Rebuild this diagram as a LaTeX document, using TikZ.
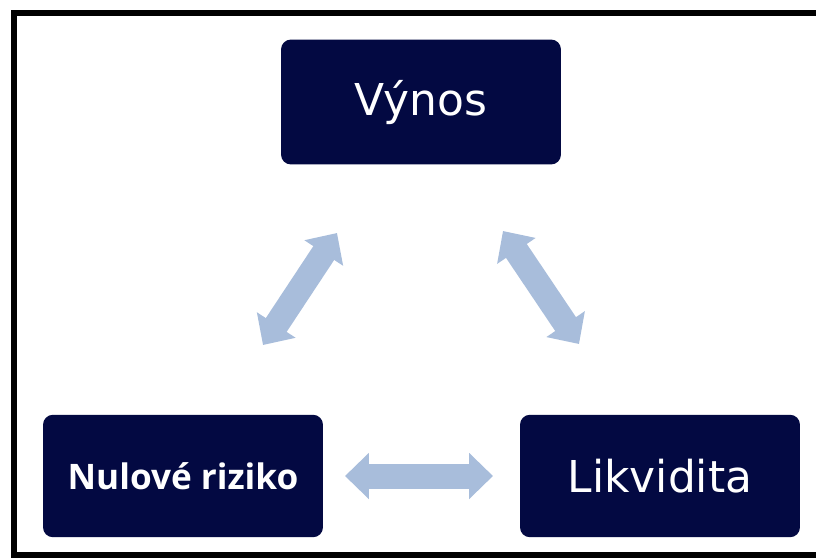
\documentclass[tikz,border=0pt]{standalone}
\usepackage{fontspec}
\setmainfont{DejaVu Sans}
\newfontfamily\osans{Open Sans}
\usetikzlibrary{arrows.meta}

\definecolor{navy}{RGB}{3,9,66}
\definecolor{arrowblue}{RGB}{168,189,219}

\tikzset{
  box/.style={fill=navy, rounded corners=0.2cm, text=white,
    minimum width=5.6cm, minimum height=2.45cm, inner sep=0pt},
  dblarrow/.style={draw=arrowblue, line width=0.5cm,
    {Triangle[width=0.9cm,length=0.48cm]}-{Triangle[width=0.9cm,length=0.48cm]}}
}

\begin{document}
\begin{tikzpicture}[x=0.02cm, y=-0.02cm]

\useasboundingbox (0,0) rectangle (816,559);

% Frame
\draw[line width=0.12cm] (816,13)--(14,13)--(14,555)--(816,555);

% Top box
\node[box, minimum height=2.5cm] (vyn) at (421,102)
{\fontsize{25}{30}\selectfont Výnos};

% Bottom left box
\node[box] (nul) at (183,476)
{\osans\bfseries\fontsize{20}{24}\selectfont Nulové riziko};

% Bottom right box
\node[box] (lik) at (660,476)
{\fontsize{25}{30}\selectfont Likvidita};

%--------------------------------------------------
% Arrows
%--------------------------------------------------
\coordinate (nulvyn1) at (263,345);
\coordinate (nulvyn2) at (337,233);
\coordinate (vynlik1) at (503,231);
\coordinate (vynlik2) at (579,344);
\coordinate (nullik1) at (345,476);
\coordinate (nullik2) at (493,476);

\draw[dblarrow] (nulvyn1)--(nulvyn2);
\draw[dblarrow] (vynlik1)--(vynlik2);
\draw[dblarrow] (nullik1)--(nullik2);

\end{tikzpicture}
\end{document}
